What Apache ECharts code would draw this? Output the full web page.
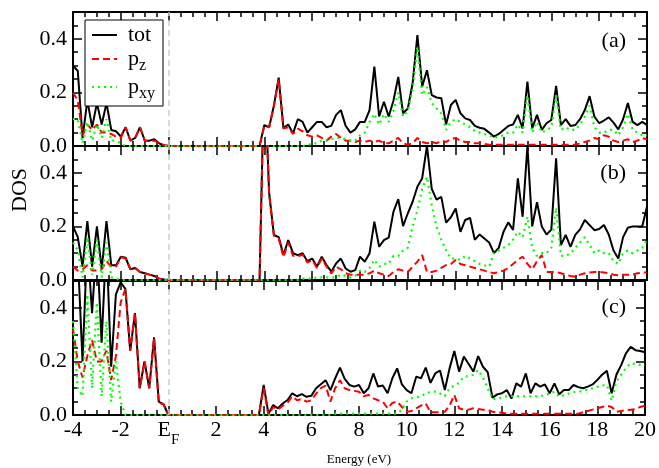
<!DOCTYPE html>
<html>
<head>
<meta charset="UTF-8">
<title>DOS</title>
<script src="https://cdn.jsdelivr.net/npm/echarts@6/dist/echarts.min.js"></script>
<style>
    * { margin: 0; padding: 0; }
    body { background: #fff; }
    #chart { width: 659px; height: 468px; }
</style>
</head>
<body>
<div id="chart"></div>
<script>
// energy grid (eV)
const energy = [
    -4, -3.8, -3.6, -3.4, -3.2, -3, -2.8, -2.6, -2.4, -2.2,
    -2, -1.8, -1.6, -1.4, -1.2, -1, -0.8, -0.6, -0.4, -0.2,
    0, 0.2, 0.4, 0.6, 0.8, 1, 1.2, 1.4, 1.6, 1.8,
    2, 2.2, 2.4, 2.6, 2.8, 3, 3.2, 3.4, 3.6, 3.8,
    4, 4.2, 4.4, 4.6, 4.8, 5, 5.2, 5.4, 5.6, 5.8,
    6, 6.2, 6.4, 6.6, 6.8, 7, 7.2, 7.4, 7.6, 7.8,
    8, 8.2, 8.4, 8.6, 8.8, 9, 9.2, 9.4, 9.6, 9.8,
    10, 10.2, 10.4, 10.6, 10.8, 11, 11.2, 11.4, 11.6, 11.8,
    12, 12.2, 12.4, 12.6, 12.8, 13, 13.2, 13.4, 13.6, 13.8,
    14, 14.2, 14.4, 14.6, 14.8, 15, 15.2, 15.4, 15.6, 15.8,
    16, 16.2, 16.4, 16.6, 16.8, 17, 17.2, 17.4, 17.6, 17.8,
    18, 18.2, 18.4, 18.6, 18.8, 19, 19.2, 19.4, 19.6, 19.8,
    20
];

// panel (a)
const totA = [
    0.30, 0.28, 0.03, 0.17, 0.07, 0.16, 0.08, 0.16, 0.06, 0.055,
    0.035, 0.07, 0.02, 0.03, 0.07, 0.02, 0.02, 0.025, 0.01, 0.003,
    0, 0, 0, 0, 0, 0, 0, 0, 0, 0,
    0, 0, 0, 0, 0, 0, 0, 0, 0, 0,
    0.078, 0.07, 0.15, 0.255, 0.067, 0.08, 0.047, 0.10, 0.09, 0.05,
    0.07, 0.09, 0.09, 0.07, 0.075, 0.116, 0.134, 0.075, 0.05, 0.062,
    0.09, 0.09, 0.134, 0.296, 0.11, 0.165, 0.11, 0.17, 0.258, 0.122,
    0.14, 0.234, 0.414, 0.222, 0.283, 0.19, 0.181, 0.178, 0.08, 0.153,
    0.172, 0.122, 0.103, 0.097, 0.075, 0.068, 0.064, 0.05, 0.035, 0.045,
    0.06, 0.075, 0.08, 0.116, 0.066, 0.24, 0.066, 0.116, 0.06, 0.085,
    0.097, 0.224, 0.078, 0.1, 0.075, 0.078, 0.1, 0.134, 0.186, 0.11,
    0.085, 0.095, 0.107, 0.087, 0.062, 0.10, 0.16, 0.09, 0.078, 0.09,
    0.078
];
const pzA = [
    0.20, 0.17, 0.04, 0.08, 0.06, 0.08, 0.05, 0.05, 0.045, 0.035,
    0.03, 0.07, 0.02, 0.03, 0.07, 0.02, 0.02, 0.02, 0.01, 0.003,
    0, 0, 0, 0, 0, 0, 0, 0, 0, 0,
    0, 0, 0, 0, 0, 0, 0, 0, 0, 0,
    0.075, 0.07, 0.15, 0.25, 0.065, 0.07, 0.045, 0.065, 0.055, 0.04,
    0.035, 0.04, 0.03, 0.02, 0.035, 0.045, 0.03, 0.02, 0.02, 0.015,
    0.02, 0.015, 0.02, 0.015, 0.02, 0.01, 0.01, 0.02, 0.03, 0.01,
    0.005, 0.01, 0.03, 0.015, 0.01, 0.015, 0.01, 0.02, 0.015, 0.025,
    0.03, 0.02, 0.015, 0.015, 0.01, 0.01, 0.008, 0.005, 0.005, 0.005,
    0.005, 0.005, 0.005, 0.005, 0.005, 0.005, 0.005, 0.005, 0.005, 0.005,
    0.005, 0.005, 0.005, 0.005, 0.005, 0.005, 0.01, 0.015, 0.02, 0.03,
    0.025, 0.04, 0.035, 0.02, 0.015, 0.02, 0.025, 0.015, 0.02, 0.03,
    0.025
];
const pxyA = [
    0.10, 0.10, 0.01, 0.09, 0.02, 0.08, 0.03, 0.10, 0.02, 0.02,
    0.01, 0, 0, 0, 0, 0, 0, 0, 0, 0,
    0, 0, 0, 0, 0, 0, 0, 0, 0, 0,
    0, 0, 0, 0, 0, 0, 0, 0, 0, 0,
    0, 0, 0, 0, 0, 0, 0, 0, 0, 0.003,
    0.01, 0.01, 0.02, 0.02, 0.025, 0.03, 0.03, 0.025, 0.02, 0.02,
    0.04, 0.05, 0.09, 0.12, 0.08, 0.12, 0.09, 0.13, 0.2, 0.11,
    0.13, 0.21, 0.37, 0.19, 0.22, 0.16, 0.14, 0.12, 0.06, 0.09,
    0.1, 0.09, 0.08, 0.07, 0.055, 0.05, 0.045, 0.04, 0.03, 0.035,
    0.04, 0.05, 0.05, 0.08, 0.05, 0.19, 0.05, 0.09, 0.05, 0.06,
    0.07, 0.19, 0.06, 0.07, 0.06, 0.06, 0.08, 0.11, 0.15, 0.07,
    0.05, 0.05, 0.06, 0.06, 0.04, 0.07, 0.12, 0.06, 0.05, 0.04,
    0.04
];

// panel (b)
const totB = [
    0.2, 0.16, 0.05, 0.22, 0.05, 0.2, 0.04, 0.22, 0.055, 0.055,
    0.087, 0.083, 0.04, 0.045, 0.03, 0.025, 0.02, 0.015, 0.005, 0.002,
    0, 0, 0, 0, 0, 0, 0, 0, 0, 0,
    0, 0, 0, 0, 0, 0, 0, 0, 0, 0,
    0.8, 0.325, 0.168, 0.16, 0.093, 0.149, 0.1, 0.093, 0.1, 0.07,
    0.08, 0.05, 0.087, 0.056, 0.031, 0.062, 0.08, 0.043, 0.031, 0.037,
    0.087, 0.068, 0.1, 0.218, 0.124, 0.149, 0.158, 0.255, 0.302, 0.201,
    0.249, 0.292, 0.348, 0.38, 0.5, 0.34, 0.3, 0.31, 0.214, 0.234,
    0.267, 0.18, 0.224, 0.232, 0.15, 0.17, 0.155, 0.14, 0.1, 0.12,
    0.18, 0.215, 0.187, 0.379, 0.236, 0.5, 0.2, 0.29, 0.2, 0.17,
    0.188, 0.454, 0.13, 0.168, 0.124, 0.168, 0.189, 0.224, 0.205, 0.186,
    0.19, 0.205, 0.17, 0.11, 0.08, 0.16, 0.195, 0.2, 0.2, 0.2,
    0.274
];
const pzB = [
    0.05, 0.035, 0.04, 0.055, 0.035, 0.035, 0.04, 0.07, 0.05, 0.05,
    0.085, 0.08, 0.04, 0.045, 0.03, 0.025, 0.02, 0.015, 0.005, 0.002,
    0, 0, 0, 0, 0, 0, 0, 0, 0, 0,
    0, 0, 0, 0, 0, 0, 0, 0, 0, 0,
    0.8, 0.32, 0.165, 0.155, 0.085, 0.14, 0.09, 0.088, 0.095, 0.065,
    0.075, 0.045, 0.08, 0.05, 0.025, 0.05, 0.04, 0.025, 0.02, 0.02,
    0.02, 0.02, 0.025, 0.035, 0.025, 0.02, 0.015, 0.03, 0.04, 0.035,
    0.03, 0.05, 0.068, 0.093, 0.03, 0.03, 0.035, 0.045, 0.056, 0.06,
    0.075, 0.06, 0.055, 0.05, 0.045, 0.04, 0.035, 0.03, 0.025, 0.03,
    0.035, 0.045, 0.06, 0.075, 0.087, 0.06, 0.04, 0.07, 0.093, 0.03,
    0.03, 0.03, 0.025, 0.02, 0.015, 0.012, 0.02, 0.025, 0.028, 0.03,
    0.03, 0.028, 0.025, 0.02, 0.018, 0.02, 0.02, 0.02, 0.025, 0.028,
    0.028
];
const pxyB = [
    0.14, 0.11, 0.01, 0.16, 0.02, 0.15, 0.01, 0.14, 0.01, 0.005,
    0, 0, 0, 0, 0, 0, 0, 0, 0, 0,
    0, 0, 0, 0, 0, 0, 0, 0, 0, 0,
    0, 0, 0, 0, 0, 0, 0, 0, 0, 0,
    0, 0, 0, 0, 0, 0, 0, 0, 0.005, 0.005,
    0.005, 0.01, 0.01, 0.01, 0.01, 0.01, 0.02, 0.015, 0.01, 0.015,
    0.035, 0.03, 0.045, 0.075, 0.05, 0.06, 0.06, 0.09, 0.09, 0.11,
    0.12, 0.2, 0.26, 0.34, 0.385, 0.28, 0.2, 0.15, 0.11, 0.08,
    0.08, 0.075, 0.09, 0.08, 0.07, 0.06, 0.055, 0.05, 0.1, 0.11,
    0.12, 0.13, 0.15, 0.18, 0.16, 0.236, 0.12, 0.09, 0.1, 0.1,
    0.12, 0.27, 0.09, 0.09, 0.1, 0.12, 0.14, 0.16, 0.13, 0.1,
    0.11, 0.1, 0.1, 0.07, 0.06, 0.1, 0.11, 0.1, 0.11, 0.12,
    0.15
];

// panel (c)
const totC = [
    0.5, 0.6, 0.2, 0.65, 0.38, 0.65, 0.27, 0.65, 0.18, 0.45,
    0.495, 0.47, 0.24, 0.38, 0.1, 0.2, 0.1, 0.29, 0.05, 0.04,
    0, 0, 0, 0, 0, 0, 0, 0, 0, 0,
    0, 0, 0, 0, 0, 0, 0, 0, 0, 0,
    0.112, 0.005, 0.037, 0.025, 0.043, 0.056, 0.081, 0.07, 0.078, 0.068,
    0.072, 0.1, 0.115, 0.13, 0.093, 0.137, 0.177, 0.135, 0.112, 0.106,
    0.112, 0.081, 0.1, 0.155, 0.106, 0.11, 0.081, 0.137, 0.174, 0.114,
    0.093, 0.081, 0.143, 0.137, 0.177, 0.12, 0.155, 0.166, 0.093, 0.174,
    0.239, 0.162, 0.218, 0.19, 0.162, 0.22, 0.18, 0.16, 0.065, 0.077,
    0.081, 0.093, 0.062, 0.118, 0.106, 0.155, 0.081, 0.118, 0.106, 0.114,
    0.081, 0.118, 0.077, 0.093, 0.093, 0.112, 0.104, 0.1, 0.106, 0.114,
    0.131, 0.15, 0.165, 0.081, 0.15, 0.186, 0.23, 0.254, 0.242, 0.239,
    0.234
];
const pzC = [
    0.32, 0.2, 0.14, 0.22, 0.28, 0.2, 0.2, 0.24, 0.13, 0.22,
    0.42, 0.47, 0.24, 0.38, 0.1, 0.2, 0.1, 0.285, 0.045, 0.04,
    0, 0, 0, 0, 0, 0, 0, 0, 0, 0,
    0, 0, 0, 0, 0, 0, 0, 0, 0, 0,
    0.1, 0, 0.03, 0.02, 0.035, 0.045, 0.07, 0.055, 0.06, 0.05,
    0.055, 0.08, 0.1, 0.11, 0.05, 0.1, 0.13, 0.1, 0.093, 0.09,
    0.087, 0.07, 0.075, 0.062, 0.055, 0.05, 0.025, 0.045, 0.05, 0.03,
    0.012, 0.015, 0.025, 0.035, 0.043, 0.01, 0.01, 0.01, 0.012, 0.035,
    0.075, 0.025, 0.02, 0.02, 0.025, 0.022, 0.02, 0.02, 0.012, 0.01,
    0.008, 0.005, 0.005, 0.005, 0.005, 0.005, 0.005, 0.005, 0.005, 0.005,
    0.005, 0.005, 0.005, 0.005, 0.005, 0.005, 0.005, 0.01, 0.015, 0.02,
    0.025, 0.03, 0.035, 0.03, 0.012, 0.015, 0.018, 0.02, 0.022, 0.03,
    0.035
];
const pxyC = [
    0.35, 0.1, 0.07, 0.45, 0.1, 0.42, 0.07, 0.35, 0.05, 0.2,
    0.05, 0, 0, 0, 0, 0, 0, 0, 0, 0,
    0, 0, 0, 0, 0, 0, 0, 0, 0, 0,
    0, 0, 0, 0, 0, 0, 0, 0, 0, 0,
    0, 0, 0, 0, 0, 0, 0, 0, 0, 0,
    0, 0, 0, 0, 0, 0.005, 0.005, 0.005, 0.005, 0.005,
    0.005, 0.005, 0.005, 0.005, 0.005, 0.005, 0.005, 0.005, 0.005, 0.02,
    0.05, 0.062, 0.065, 0.07, 0.08, 0.087, 0.087, 0.08, 0.07, 0.1,
    0.11, 0.12, 0.143, 0.145, 0.15, 0.168, 0.14, 0.1, 0.06, 0.06,
    0.065, 0.07, 0.07, 0.07, 0.07, 0.07, 0.07, 0.07, 0.07, 0.075,
    0.08, 0.087, 0.068, 0.075, 0.08, 0.085, 0.087, 0.09, 0.095, 0.1,
    0.105, 0.11, 0.112, 0.053, 0.124, 0.15, 0.175, 0.193, 0.19, 0.187,
    0.187
];

const panelTags = ['(a)', '(b)', '(c)'];
const seriesNames = ['tot', 'pz', 'pxy'];
const panels = [[totA, pzA, pxyA], [totB, pzB, pxyB], [totC, pzC, pxyC]];

const FONT = 'Liberation Serif';
const gridTops = [12, 146, 281];
const gridH = 134;

const chart = echarts.init(document.getElementById('chart'));

const lineBlack = { color: '#000', width: 2 };
const tickBlack = { color: '#000', width: 1.5 };

const grids = [];
const xAxes = [];
const yAxes = [];
gridTops.forEach(function (top, g) {
    grids.push({ left: 73, right: 12, top: top, height: gridH });
    const last = g === 2;
    const xb = { gridIndex: g, type: 'value', min: -4, max: 20, splitLine: { show: false } };
    xAxes.push(Object.assign({}, xb, {
        position: 'bottom', interval: 2,
        axisLine: { onZero: false, lineStyle: lineBlack },
        axisTick: { inside: true, length: 9, lineStyle: tickBlack },
        axisLabel: last ? {
            color: '#000', fontFamily: FONT, fontSize: 22, margin: 4,
            formatter: function (v) { return v === 0 ? '{e|E}{f|F}' : String(v); },
            rich: {
                e: { fontFamily: FONT, fontSize: 22, lineHeight: 22, verticalAlign: 'top' },
                f: { fontFamily: FONT, fontSize: 15, lineHeight: 15, padding: [14, 0, 0, 0], verticalAlign: 'top' }
            }
        } : { show: false },
        name: last ? 'Energy (eV)' : '',
        nameLocation: 'middle', nameGap: 38,
        nameTextStyle: { fontFamily: FONT, fontSize: 13, color: '#000' }
    }));
    xAxes.push(Object.assign({}, xb, {
        position: 'bottom', interval: 0.5,
        axisLine: { show: false, onZero: false },
        axisTick: { inside: true, length: 5, lineStyle: tickBlack },
        axisLabel: { show: false }
    }));
    xAxes.push(Object.assign({}, xb, {
        position: 'top', interval: 2,
        axisLine: { onZero: false, lineStyle: lineBlack },
        axisTick: { inside: true, length: 9, lineStyle: tickBlack },
        axisLabel: { show: false }
    }));
    xAxes.push(Object.assign({}, xb, {
        position: 'top', interval: 0.5,
        axisLine: { show: false, onZero: false },
        axisTick: { inside: true, length: 5, lineStyle: tickBlack },
        axisLabel: { show: false }
    }));

    const yb = { gridIndex: g, type: 'value', min: 0, max: 0.5, splitLine: { show: false } };
    yAxes.push(Object.assign({}, yb, {
        position: 'left', interval: 0.2,
        axisLine: { onZero: false, lineStyle: lineBlack },
        axisTick: { inside: true, length: 9, lineStyle: tickBlack },
        axisLabel: {
            color: '#000', fontFamily: FONT, fontSize: 22, margin: 6,
            formatter: function (v) { return v > 0.45 ? '' : v.toFixed(1); }
        }
    }));
    yAxes.push(Object.assign({}, yb, {
        position: 'left', interval: 0.05,
        axisLine: { show: false, onZero: false },
        axisTick: { inside: true, length: 5, lineStyle: tickBlack },
        axisLabel: { show: false }
    }));
    yAxes.push(Object.assign({}, yb, {
        position: 'right', interval: 0.2,
        axisLine: { onZero: false, lineStyle: lineBlack },
        axisTick: { inside: true, length: 9, lineStyle: tickBlack },
        axisLabel: { show: false }
    }));
    yAxes.push(Object.assign({}, yb, {
        position: 'right', interval: 0.05,
        axisLine: { show: false, onZero: false },
        axisTick: { inside: true, length: 5, lineStyle: tickBlack },
        axisLabel: { show: false }
    }));
});

const styles = [
    { color: '#000000', width: 2, type: 'solid' },
    { color: '#ff0000', width: 2, type: [7, 4] },
    { color: '#00ff00', width: 2.2, type: [2, 4] }
];

const series = [];
panels.forEach(function (sets, g) {
    sets.forEach(function (vals, k) {
        const s = {
            name: seriesNames[k],
            type: 'line',
            xAxisIndex: g * 4,
            yAxisIndex: g * 4,
            symbol: 'none',
            clip: true,
            lineStyle: styles[k],
            itemStyle: { color: styles[k].color },
            data: energy.map(function (e, i) { return [e, vals[i]]; })
        };
        if (k === 0) {
            s.markLine = {
                silent: true, symbol: 'none', label: { show: false },
                lineStyle: { color: '#cccccc', type: [6, 4], width: 1.5 },
                data: [{ xAxis: 0 }]
            };
        }
        series.push(s);
    });
});

chart.setOption({
    animation: false,
    backgroundColor: '#fff',
    grid: grids,
    xAxis: xAxes,
    yAxis: yAxes,
    legend: {
        data: seriesNames,
        orient: 'vertical',
        left: 85, top: 20,
        backgroundColor: '#fff',
        borderColor: '#000', borderWidth: 1,
        padding: [4, 8, 4, 6],
        itemGap: 2,
        itemWidth: 25, itemHeight: 14,
        itemStyle: { opacity: 0 },
        formatter: function (n) {
            if (n === 'pz') return '{b|p}{s|z}';
            if (n === 'pxy') return '{b|p}{s|xy}';
            return '{b|tot}';
        },
        textStyle: {
            color: '#000', fontFamily: FONT, fontSize: 22, padding: [0, 0, 0, 6],
            rich: {
                b: { fontFamily: FONT, fontSize: 22, lineHeight: 22, verticalAlign: 'top' },
                s: { fontFamily: FONT, fontSize: 16, lineHeight: 16, padding: [10, 0, 0, 0], verticalAlign: 'top' }
            }
        }
    },
    graphic: [
        { type: 'text', x: 626, y: 41, style: { text: panelTags[0], font: '22px "Liberation Serif"', fill: '#000', textAlign: 'right', textVerticalAlign: 'middle' } },
        { type: 'text', x: 626, y: 173, style: { text: panelTags[1], font: '22px "Liberation Serif"', fill: '#000', textAlign: 'right', textVerticalAlign: 'middle' } },
        { type: 'text', x: 626, y: 307, style: { text: panelTags[2], font: '22px "Liberation Serif"', fill: '#000', textAlign: 'right', textVerticalAlign: 'middle' } },
        { type: 'text', x: 20, y: 190, rotation: Math.PI / 2, style: { text: 'DOS', font: '22px "Liberation Serif"', fill: '#000', textAlign: 'center', textVerticalAlign: 'middle' } }
    ],
    series: series
});
</script>
</body>
</html>
